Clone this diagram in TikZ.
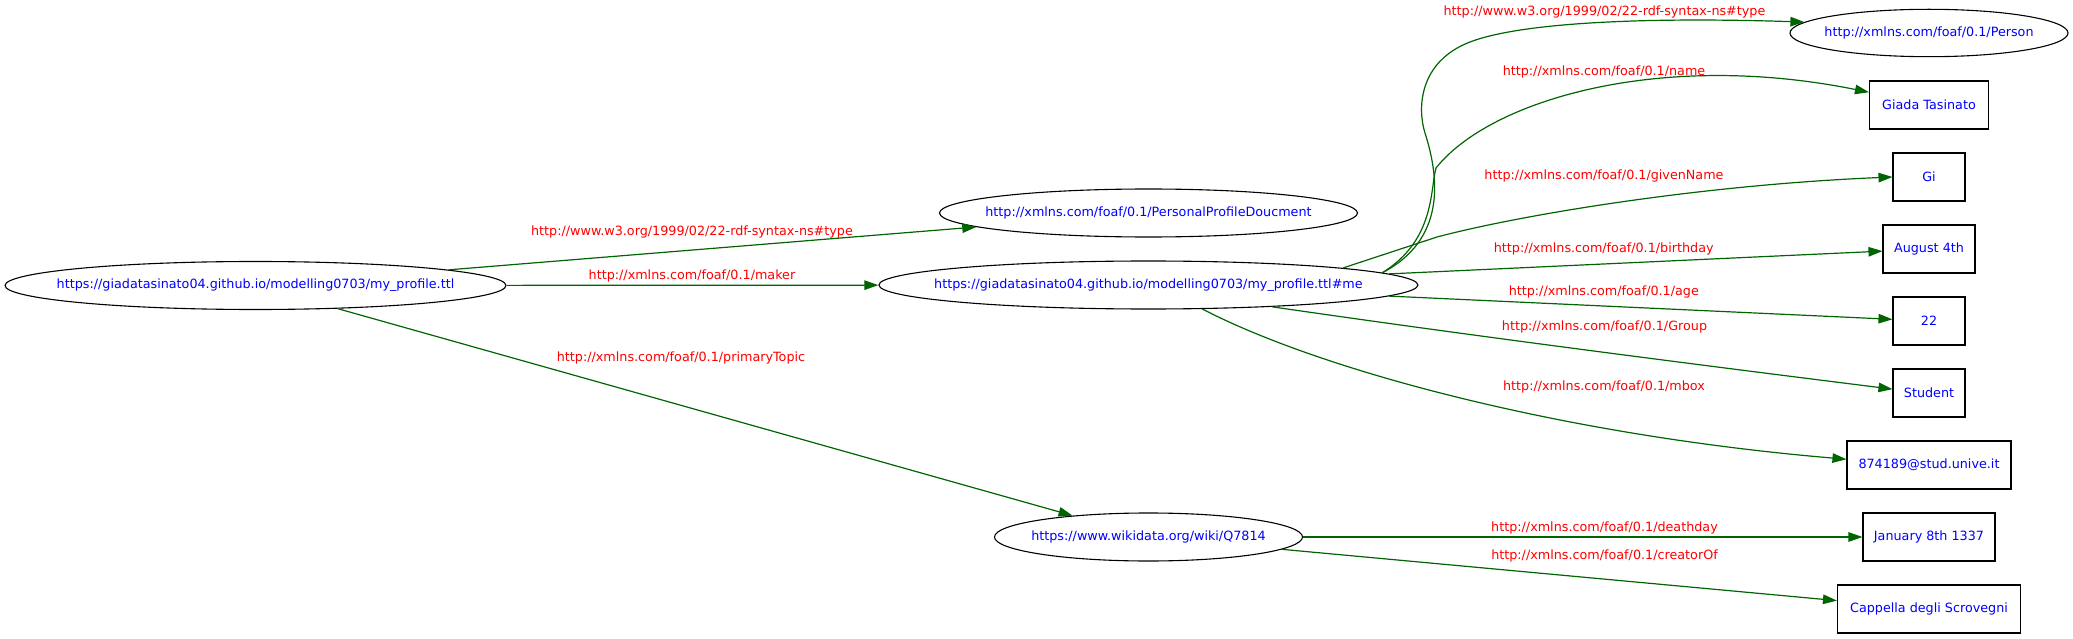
\documentclass[tikz,border=0pt]{standalone}
\usepackage{fontspec}
\setmainfont{DejaVu Sans}
\usetikzlibrary{shapes.geometric,arrows.meta}
\definecolor{edgegreen}{HTML}{006400}
\newcommand{\ctrtext}[1]{\makebox[0pt][c]{#1}}
\begin{document}
\begin{tikzpicture}[x=1pt,y=-1pt,
  every node/.style={font=\fontsize{12.75pt}{15pt}\selectfont},
  ell/.style={draw=black, line width=1.1pt, ellipse, inner sep=0pt, minimum height=48pt, text=blue},
  box/.style={draw=black, line width=1.1pt, rectangle, inner sep=0pt, minimum height=48pt, text=blue},
  lbl/.style={text=red, inner sep=0pt},
  edge/.style={draw=edgegreen, line width=1.2pt, -{Triangle[length=14pt,width=9.5pt]}},
]
\useasboundingbox (0,0) rectangle (2073,639);
% nodes
\node[ell, minimum width=501pt] (ttl) at (255.5,285.5) {\ctrtext{https://giadatasinato04.github.io/modelling0703/my\_profile.ttl}};
\node[ell, minimum width=418pt] (ppd) at (1148.5,213) {\ctrtext{http://xmlns.com/foaf/0.1/PersonalProfileDoucment}};
\node[ell, minimum width=539pt] (me) at (1148.4,285) {\ctrtext{https://giadatasinato04.github.io/modelling0703/my\_profile.ttl\#me}};
\node[ell, minimum width=308pt] (wiki) at (1148.5,537) {\ctrtext{https://www.wikidata.org/wiki/Q7814}};
\node[ell, minimum width=278pt, minimum height=47.4pt] (person) at (1929,33) {\ctrtext{http://xmlns.com/foaf/0.1/Person}};
\node[box, minimum width=119pt] (giada) at (1929,105) {Giada Tasinato};
\node[box, minimum width=72pt] (gi) at (1929,177) {Gi};
\node[box, minimum width=92pt] (aug) at (1929,249) {August 4th};
\node[box, minimum width=72pt] (age) at (1929,321) {22};
\node[box, minimum width=72pt] (student) at (1929,393) {Student};
\node[box, minimum width=164pt] (mbox) at (1929,465) {874189@stud.unive.it};
\node[box, minimum width=132pt] (jan) at (1929,537) {January 8th 1337};
\node[box, minimum width=183pt] (cap) at (1929,609) {Cappella degli Scrovegni};
% edges
\draw[edge] (ttl) -- (ppd);
\draw[edge] (ttl) -- (me);
\draw[edge] (ttl) -- (wiki);
\draw[edge] (me.3.5) .. controls (1445,240) and (1440,180) .. (1425,133) .. controls (1417.5,109.5) and (1418,62) .. (1470,42) .. controls (1522,22) and (1650,17) .. (person.175.6);
\draw[edge] (me.3.5) .. controls (1435,240) and (1430,190) .. (1436,168) .. controls (1490,100) and (1660,50) .. (giada.168.8);
\draw[edge] (me.5.3) -- (1437,237) .. controls (1520,215) and (1700,185) .. (gi.west);
\draw[edge] (me) -- (aug);
\draw[edge] (me) -- (age);
\draw[edge] (me.-10.1) .. controls (1480,337) and (1700,365) .. (student.174.1);
\draw[edge] (me.-24.1) .. controls (1320,370) and (1560,435) .. (mbox.176);
\draw[edge] (wiki) -- (jan);
\draw[edge] (wiki) -- (cap);
% edge labels
\node[lbl] (l1) at (692,231.5) {http://www.w3.org/1999/02/22-rdf-syntax-ns\#type};
\node[lbl] (l2) at (692,276) {http://xmlns.com/foaf/0.1/maker};
\node[lbl] (l3) at (681,358) {http://xmlns.com/foaf/0.1/primaryTopic};
\node[lbl] (l4) at (1604.5,11.7) {http://www.w3.org/1999/02/22-rdf-syntax-ns\#type};
\node[lbl] (l5) at (1604,72.3) {http://xmlns.com/foaf/0.1/name};
\node[lbl] (l6) at (1604,175.7) {http://xmlns.com/foaf/0.1/givenName};
\node[lbl] (l7) at (1603.7,249) {http://xmlns.com/foaf/0.1/birthday};
\node[lbl] (l8) at (1603.8,291.7) {http://xmlns.com/foaf/0.1/age};
\node[lbl] (l9) at (1604.5,326.7) {http://xmlns.com/foaf/0.1/Group};
\node[lbl] (l10) at (1604,387.3) {http://xmlns.com/foaf/0.1/mbox};
\node[lbl] (l11) at (1604.5,528.3) {http://xmlns.com/foaf/0.1/deathday};
\node[lbl] (l12) at (1604.5,556) {http://xmlns.com/foaf/0.1/creatorOf};
\end{tikzpicture}
\end{document}
